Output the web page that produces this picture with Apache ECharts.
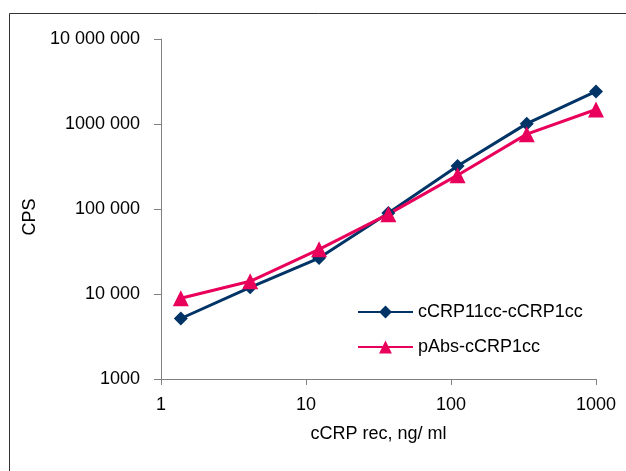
<!DOCTYPE html>
<html>
<head>
<meta charset="utf-8">
<script src="https://cdn.jsdelivr.net/npm/echarts@6/dist/echarts.min.js"></script>
<style>
html,body{margin:0;padding:0;background:#fff;}
#c{width:626px;height:471px;}
</style>
</head>
<body>
<div id="c"></div>
<script>
var xValues = [1.37, 4.12, 12.3, 37, 111, 333, 1000];
var seriesNames = ['cCRP11cc-cCRP1cc', 'pAbs-cCRP1cc'];
var series1 = [5150, 12000, 26500, 90000, 320000, 1010000, 2420000];
var series2 = [8900, 14100, 33500, 87000, 250000, 760000, 1480000];
var yTickValues = [1000, 10000, 100000, 1000000, 10000000];
var yTickLabels = ['1000', '10 000', '100 000', '1000 000', '10 000 000'];
var xTickValues = [1, 10, 100, 1000];
var xTickLabels = ['1', '10', '100', '1000'];

function pick(vals, labels, v) {
  var best = 0, bd = Infinity;
  for (var i = 0; i < vals.length; i++) {
    var d = Math.abs(Math.log10(v) - Math.log10(vals[i]));
    if (d < bd) { bd = d; best = i; }
  }
  return bd < 0.01 ? labels[best] : '';
}
function pairs(xs, ys) { return xs.map(function (x, i) { return [x, ys[i]]; }); }

var FONT = 'Liberation Sans, Arial, sans-serif';
var FS = 18;
var chart = echarts.init(document.getElementById('c'), null, {renderer: 'canvas'});
chart.setOption({
  animation: false,
  backgroundColor: '#fff',
  graphic: [{
    type: 'rect', left: 7, top: 11, silent: true,
    shape: {width: 700, height: 600},
    style: {fill: 'none', stroke: '#333', lineWidth: 1}
  }],
  grid: {left: 161, right: 30, top: 39, bottom: 92},
  legend: {
    orient: 'vertical', left: 357, top: 303, padding: 0,
    itemWidth: 55, itemHeight: 16, itemGap: 17,
    textStyle: {fontFamily: FONT, fontSize: FS, color: '#000'},
    data: seriesNames
  },
  xAxis: {
    type: 'log', logBase: 10, min: 1, max: 1000,
    name: 'cCRP rec, ng/ ml', nameLocation: 'middle', nameGap: 46,
    nameTextStyle: {fontFamily: FONT, fontSize: FS, color: '#000'},
    axisLine: {show: true, lineStyle: {color: '#808080', width: 1}},
    axisTick: {show: true, inside: false, length: 6, lineStyle: {color: '#808080'}},
    minorTick: {show: false},
    splitLine: {show: false},
    axisLabel: {
      margin: 17, fontFamily: FONT, fontSize: FS, color: '#000',
      formatter: function (v) { return pick(xTickValues, xTickLabels, v); }
    }
  },
  yAxis: {
    type: 'log', logBase: 10, min: 1000, max: 10000000,
    name: 'CPS', nameLocation: 'middle', nameGap: 122, nameRotate: 90,
    nameTextStyle: {fontFamily: FONT, fontSize: FS, color: '#000', padding: [0, 16, 0, 0]},
    axisLine: {show: true, lineStyle: {color: '#808080', width: 1}},
    axisTick: {show: true, inside: false, length: 7, lineStyle: {color: '#808080'}},
    minorTick: {show: false},
    splitLine: {show: false},
    axisLabel: {
      margin: 21, fontFamily: FONT, fontSize: FS, color: '#000',
      formatter: function (v) { return pick(yTickValues, yTickLabels, v); }
    }
  },
  series: [{
    name: seriesNames[0], type: 'line',
    data: pairs(xValues, series1),
    symbol: 'diamond', symbolSize: 14,
    lineStyle: {color: '#003366', width: 3},
    itemStyle: {color: '#003366'}
  }, {
    name: seriesNames[1], type: 'line',
    data: pairs(xValues, series2),
    symbol: 'triangle', symbolSize: 16,
    lineStyle: {color: '#E8005A', width: 3},
    itemStyle: {color: '#E8005A'}
  }]
});
</script>
</body>
</html>
